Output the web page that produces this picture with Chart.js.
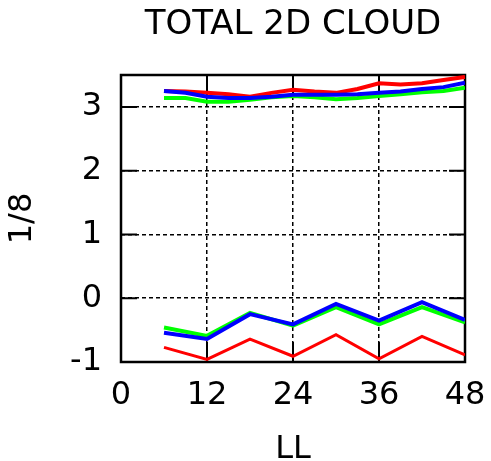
<!DOCTYPE html>
<html>
<head>
<meta charset="utf-8">
<script src="https://cdn.jsdelivr.net/npm/chart.js@4"></script>
<style>
  html, body { margin: 0; padding: 0; background: #fff; }
  #wrap { width: 491px; height: 461px; }
</style>
</head>
<body>
<div id="wrap"><canvas id="cloudChart" width="491" height="461"></canvas></div>
<script>
// forecast hours (LL) and cloud amounts in oktas
const hoursUpper = [6, 9, 12, 15, 18, 21, 24, 27, 30, 33, 36, 39, 42, 45, 48];
const hoursLower = [6, 12, 18, 24, 30, 36, 42, 48];

const redUpper   = [3.25, 3.24, 3.22, 3.20, 3.16, 3.22, 3.27, 3.24, 3.22, 3.28, 3.37, 3.35, 3.37, 3.42, 3.47];
const greenUpper = [3.14, 3.14, 3.08, 3.08, 3.11, 3.15, 3.17, 3.15, 3.12, 3.14, 3.17, 3.20, 3.23, 3.25, 3.30];
const blueUpper  = [3.25, 3.22, 3.16, 3.14, 3.14, 3.16, 3.19, 3.19, 3.19, 3.20, 3.22, 3.24, 3.28, 3.31, 3.38];

const redLower   = [-0.77, -0.96, -0.64, -0.91, -0.57, -0.95, -0.60, -0.89];
const greenLower = [-0.46, -0.59, -0.23, -0.43, -0.14, -0.41, -0.14, -0.38];
const blueLower  = [-0.54, -0.64, -0.25, -0.41, -0.09, -0.35, -0.06, -0.34];

const xTicks = [0, 12, 24, 36, 48];
const yTicks = [-1, 0, 1, 2, 3];

const FONT = 'DejaVu Sans';

function pts(xs, ys) {
    return xs.map((x, i) => ({ x: x, y: ys[i] }));
}

function line(data, color, width, order) {
    return {
        data: data,
        borderColor: color,
        borderWidth: width,
        pointRadius: 0,
        tension: 0,
        fill: false,
        order: order
    };
}

// box round the plot plus inward tick marks
const framePlugin = {
    id: 'frame',
    beforeDatasetsDraw(chart) {
        const { ctx, chartArea: a, scales } = chart;
        ctx.save();
        ctx.strokeStyle = '#000';
        ctx.lineWidth = 2;
        ctx.beginPath();
        xTicks.forEach(v => {
            const px = scales.x.getPixelForValue(v);
            ctx.moveTo(px, a.top); ctx.lineTo(px, a.top + 20);
            ctx.moveTo(px, a.bottom); ctx.lineTo(px, a.bottom - 20);
        });
        yTicks.forEach(v => {
            const py = scales.y.getPixelForValue(v);
            ctx.moveTo(a.left, py); ctx.lineTo(a.left + 16, py);
            ctx.moveTo(a.right, py); ctx.lineTo(a.right - 16, py);
        });
        ctx.stroke();
        ctx.lineWidth = 2.5;
        ctx.strokeRect(a.left, a.top, a.width, a.height);
        ctx.restore();
    }
};

const ctx = document.getElementById('cloudChart').getContext('2d');
const cloudChart = new Chart(ctx, {
    type: 'line',
    data: {
        datasets: [
            line(pts(hoursUpper, blueUpper), '#0000ff', 4, 1),
            line(pts(hoursLower, blueLower), '#0000ff', 4, 1),
            line(pts(hoursUpper, greenUpper), '#00ff00', 4, 2),
            line(pts(hoursLower, greenLower), '#00ff00', 4, 2),
            line(pts(hoursUpper, redUpper), '#ff0000', 4, 3),
            line(pts(hoursLower, redLower), '#ff0000', 3, 3)
        ]
    },
    options: {
        responsive: false,
        animation: false,
        layout: { padding: { left: 0, right: 26, top: 0, bottom: 0 } },
        plugins: {
            legend: { display: false },
            tooltip: { enabled: false },
            title: {
                display: true,
                text: 'TOTAL 2D CLOUD',
                color: '#000',
                fullSize: false,
                font: { family: FONT, size: 34, weight: 'normal', lineHeight: 1 },
                padding: { top: 8, bottom: 33 }
            }
        },
        scales: {
            x: {
                type: 'linear',
                min: 0,
                max: 48,
                afterBuildTicks: ax => { ax.ticks = xTicks.map(v => ({ value: v })); },
                afterFit: ax => { ax.height = 99; ax.paddingLeft = 0; ax.paddingRight = 0; },
                grid: { color: '#000', lineWidth: 1.5, drawTicks: false },
                border: { display: false, dash: [4, 3] },
                ticks: {
                    autoSkip: false,
                    maxRotation: 0,
                    padding: 14,
                    color: '#000',
                    font: { family: FONT, size: 32 }
                },
                title: {
                    display: true,
                    text: 'LL',
                    color: '#000',
                    padding: 0,
                    font: { family: FONT, size: 32, lineHeight: 0.72 }
                }
            },
            y: {
                type: 'linear',
                min: -1,
                max: 3.5,
                afterBuildTicks: ax => { ax.ticks = yTicks.map(v => ({ value: v })); },
                afterFit: ax => { ax.width = 121; },
                grid: { color: '#000', lineWidth: 1.5, drawTicks: false },
                border: { display: false, dash: [4, 3] },
                ticks: {
                    padding: 19,
                    color: '#000',
                    font: { family: FONT, size: 32 }
                },
                title: {
                    display: true,
                    text: '1/8',
                    color: '#000',
                    padding: 7,
                    font: { family: FONT, size: 32, lineHeight: 1 }
                }
            }
        }
    },
    plugins: [framePlugin]
});
</script>
</body>
</html>
